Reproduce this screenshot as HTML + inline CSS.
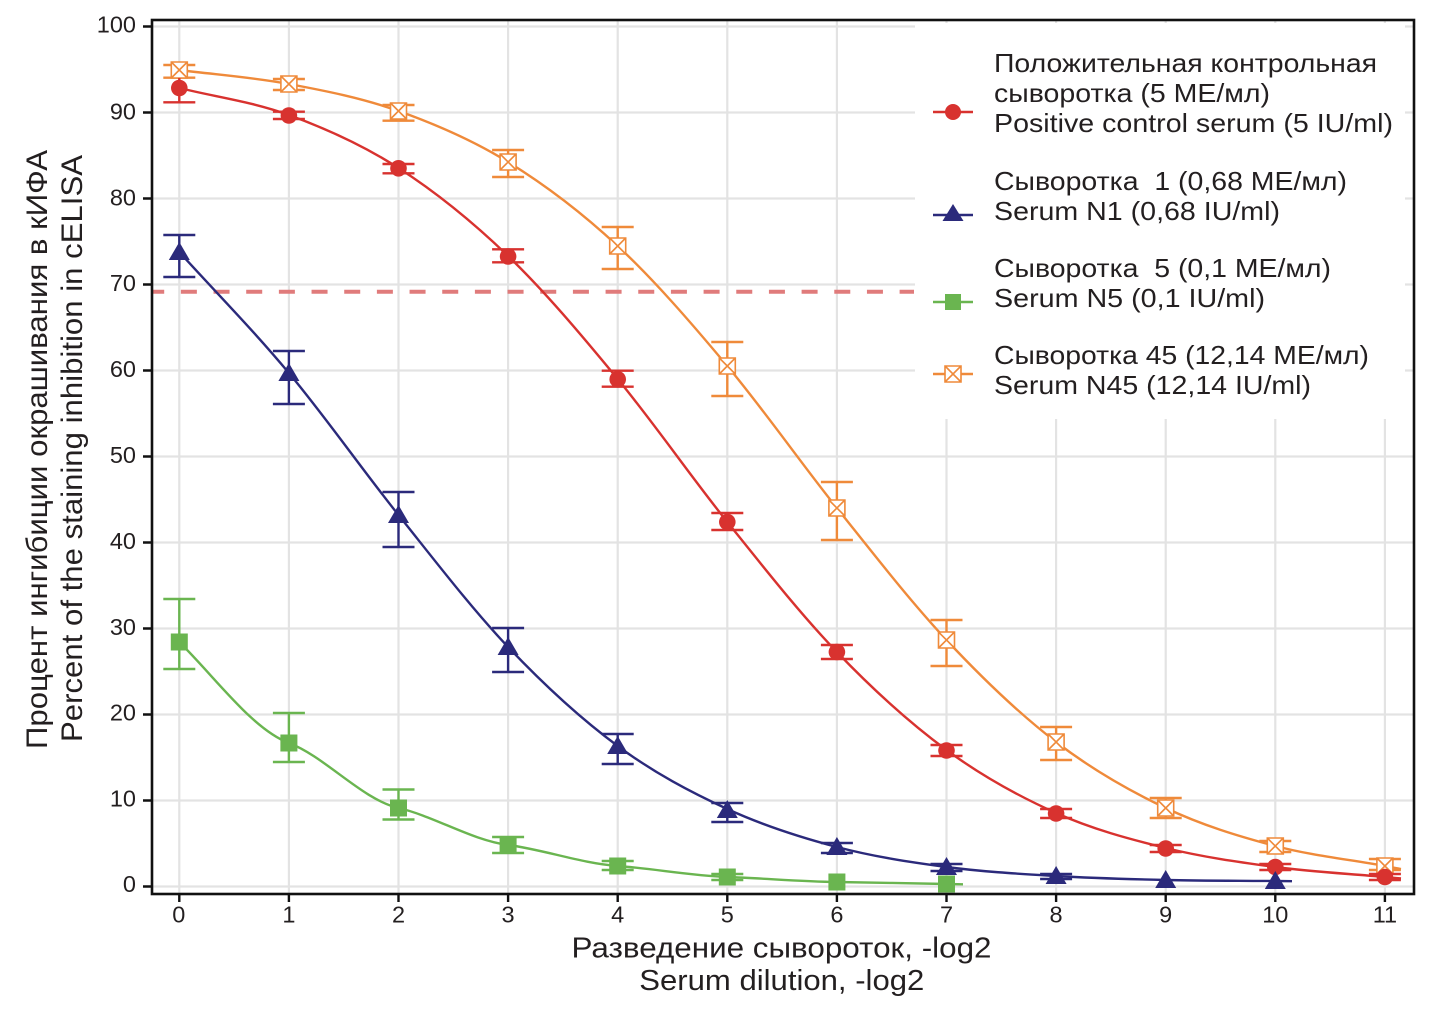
<!DOCTYPE html>
<html><head><meta charset="utf-8"><style>
html,body{margin:0;padding:0;background:#fff;}
svg{display:block;}
text{font-family:"Liberation Sans","DejaVu Sans",sans-serif;fill:#231f20;}
</style></head><body>
<svg width="1442" height="1019" viewBox="0 0 1442 1019" xmlns="http://www.w3.org/2000/svg">
<rect width="1442" height="1019" fill="#fff"/>
<!-- grid -->
<g stroke="#e3e3e3" stroke-width="2.2">
<line x1="179.3" y1="20" x2="179.3" y2="894"/><line x1="288.9" y1="20" x2="288.9" y2="894"/>
<line x1="398.5" y1="20" x2="398.5" y2="894"/><line x1="508.1" y1="20" x2="508.1" y2="894"/>
<line x1="617.7" y1="20" x2="617.7" y2="894"/><line x1="727.3" y1="20" x2="727.3" y2="894"/>
<line x1="836.9" y1="20" x2="836.9" y2="894"/><line x1="946.5" y1="20" x2="946.5" y2="894"/>
<line x1="1056.1" y1="20" x2="1056.1" y2="894"/><line x1="1165.7" y1="20" x2="1165.7" y2="894"/>
<line x1="1275.3" y1="20" x2="1275.3" y2="894"/><line x1="1384.9" y1="20" x2="1384.9" y2="894"/>
<line x1="152" y1="886.5" x2="1414" y2="886.5"/><line x1="152" y1="800.5" x2="1414" y2="800.5"/>
<line x1="152" y1="714.5" x2="1414" y2="714.5"/><line x1="152" y1="628.5" x2="1414" y2="628.5"/>
<line x1="152" y1="542.5" x2="1414" y2="542.5"/><line x1="152" y1="456.5" x2="1414" y2="456.5"/>
<line x1="152" y1="370.5" x2="1414" y2="370.5"/><line x1="152" y1="284.5" x2="1414" y2="284.5"/>
<line x1="152" y1="198.5" x2="1414" y2="198.5"/><line x1="152" y1="112.5" x2="1414" y2="112.5"/>
<line x1="152" y1="26.5" x2="1414" y2="26.5"/>
</g>
<!-- legend background -->
<rect x="915" y="23" width="490" height="396" fill="#fff"/>
<!-- dashed threshold -->
<line x1="153" y1="291.7" x2="914" y2="291.7" stroke="#e07b7b" stroke-width="4" stroke-dasharray="16 16.67" stroke-dashoffset="4.8"/>

<!-- ORANGE series -->
<g stroke="#ef8a3a" fill="none" stroke-width="2.4">
<path d="M179.3,70 C215.8,74.67 252.4,77.17 288.9,84 C325.4,90.83 362.0,98 398.5,111 C435.0,124 471.6,139.5 508.1,162 C544.6,184.5 581.2,212 617.7,246 C654.2,280 690.8,322.33 727.3,366 C763.8,409.67 800.4,462.33 836.9,508 C873.4,553.67 910.0,601 946.5,640 C983.0,679 1019.6,714 1056.1,742 C1092.6,770 1129.2,790.67 1165.7,808 C1202.2,825.33 1238.8,836.33 1275.3,846 C1311.8,855.67 1348.4,859.33 1384.9,866 L1401,869"/>
<path d="M179.3,65V77.7M163.3,65h32M163.3,77.7h32
M288.9,79V90M272.9,79h32M272.9,90h32
M398.5,105V120.7M382.5,105h32M382.5,120.7h32
M508.1,150V177M492.1,150h32M492.1,177h32
M617.7,227V269M601.7,227h32M601.7,269h32
M727.3,342V396M711.3,342h32M711.3,396h32
M836.9,482V540M820.9,482h32M820.9,540h32
M946.5,620V666M930.5,620h32M930.5,666h32
M1056.1,727V760M1040.1,727h32M1040.1,760h32
M1165.7,798V818M1149.7,798h32M1149.7,818h32
M1275.3,841V852M1259.3,841h32M1259.3,852h32
M1384.9,859V870M1368.9,859h32M1368.9,870h32"/>
</g>
<g stroke="#ef8a3a" fill="#fff" stroke-width="1.6">
<path d="M171.3,62h16v16h-16zM171.3,62l16,16M187.3,62l-16,16"/>
<path d="M280.9,76h16v16h-16zM280.9,76l16,16M296.9,76l-16,16"/>
<path d="M390.5,103h16v16h-16zM390.5,103l16,16M406.5,103l-16,16"/>
<path d="M500.1,154h16v16h-16zM500.1,154l16,16M516.1,154l-16,16"/>
<path d="M609.7,238h16v16h-16zM609.7,238l16,16M625.7,238l-16,16"/>
<path d="M719.3,358h16v16h-16zM719.3,358l16,16M735.3,358l-16,16"/>
<path d="M828.9,500h16v16h-16zM828.9,500l16,16M844.9,500l-16,16"/>
<path d="M938.5,632h16v16h-16zM938.5,632l16,16M954.5,632l-16,16"/>
<path d="M1048.1,734h16v16h-16zM1048.1,734l16,16M1064.1,734l-16,16"/>
<path d="M1157.7,800h16v16h-16zM1157.7,800l16,16M1173.7,800l-16,16"/>
<path d="M1267.3,838h16v16h-16zM1267.3,838l16,16M1283.3,838l-16,16"/>
<path d="M1376.9,858h16v16h-16zM1376.9,858l16,16M1392.9,858l-16,16"/>
</g>

<!-- RED series -->
<g stroke="#d8322f" fill="none" stroke-width="2.4">
<path d="M179.3,88 C215.8,97 252.4,101.67 288.9,115 C325.4,128.33 362.0,144.5 398.5,168 C435.0,191.5 471.6,220.83 508.1,256 C544.6,291.17 581.2,334.67 617.7,379 C654.2,423.33 690.8,476.5 727.3,522 C763.8,567.5 800.4,614 836.9,652 C873.4,690 910.0,723.17 946.5,750 C983.0,776.83 1019.6,796.67 1056.1,813 C1092.6,829.33 1129.2,839 1165.7,848 C1202.2,857 1238.8,862.17 1275.3,867 C1311.8,871.83 1348.4,873.67 1384.9,877 L1401,878.5"/>
<path d="M179.3,78V102.3M163.3,102.3h32
M288.9,111.7V119M272.9,111.7h32M272.9,119h32
M398.5,164V173.3M382.5,164h32M382.5,173.3h32
M508.1,249.3V262.3M492.1,249.3h32M492.1,262.3h32
M617.7,370.7V386.7M601.7,370.7h32M601.7,386.7h32
M727.3,513V530M711.3,513h32M711.3,530h32
M836.9,645V659M820.9,645h32M820.9,659h32
M946.5,745V756M930.5,745h32M930.5,756h32
M1056.1,809V818M1040.1,809h32M1040.1,818h32
M1165.7,845V852M1149.7,845h32M1149.7,852h32
M1275.3,864V870M1259.3,864h32M1259.3,870h32
M1384.9,874V880M1368.9,874h32M1368.9,880h32"/>
</g>
<g fill="#d8322f">
<circle cx="179.3" cy="88" r="8.3"/><circle cx="288.9" cy="115.5" r="8.3"/>
<circle cx="398.5" cy="168.3" r="8.3"/><circle cx="508.1" cy="256.5" r="8.3"/>
<circle cx="617.7" cy="379.3" r="8.3"/><circle cx="727.3" cy="522" r="8.3"/>
<circle cx="836.9" cy="652" r="8.3"/><circle cx="946.5" cy="750.5" r="8.3"/>
<circle cx="1056.1" cy="813.5" r="8.3"/><circle cx="1165.7" cy="848.5" r="8.3"/>
<circle cx="1275.3" cy="867" r="8.3"/><circle cx="1384.9" cy="877" r="8.3"/>
</g>

<!-- BLUE series -->
<g stroke="#2b2a7b" fill="none" stroke-width="2.4">
<path d="M179.3,252 C215.8,292.33 252.4,329.17 288.9,373 C325.4,416.83 362.0,469.33 398.5,515 C435.0,560.67 471.6,608.5 508.1,647 C544.6,685.5 581.2,719 617.7,746 C654.2,773 690.8,792.17 727.3,809 C763.8,825.83 800.4,837.33 836.9,847 C873.4,856.67 910.0,862.17 946.5,867 C983.0,871.83 1019.6,873.83 1056.1,876 C1092.6,878.17 1129.2,879.17 1165.7,880 C1202.2,880.83 1238.8,880.67 1275.3,881 L1292,881.2"/>
<path d="M179.3,235V277M163.3,235h32M163.3,277h32
M288.9,351V404M272.9,351h32M272.9,404h32
M398.5,492V547M382.5,492h32M382.5,547h32
M508.1,628V672M492.1,628h32M492.1,672h32
M617.7,734V764M601.7,734h32M601.7,764h32
M727.3,803V822M711.3,803h32M711.3,822h32
M836.9,843V853M820.9,843h32M820.9,853h32
M946.5,864V871M930.5,864h32M930.5,871h32
M1056.1,874V879M1040.1,874h32M1040.1,879h32"/>
</g>
<g fill="#2b2a7b">
<polygon points="179.3,242 168.8,260 189.8,260"/>
<polygon points="288.9,363 278.4,381 299.4,381"/>
<polygon points="398.5,505 388,523 409,523"/>
<polygon points="508.1,637 497.6,655 518.6,655"/>
<polygon points="617.7,736 607.2,754 628.2,754"/>
<polygon points="727.3,800 716.8,818 737.8,818"/>
<polygon points="836.9,837 826.4,855 847.4,855"/>
<polygon points="946.5,857 936,875 957,875"/>
<polygon points="1056.1,866 1045.6,884 1066.6,884"/>
<polygon points="1165.7,870 1155.2,888 1176.2,888"/>
<polygon points="1275.3,871 1264.8,889 1285.8,889"/>
</g>

<!-- GREEN series -->
<g stroke="#6ab550" fill="none" stroke-width="2.4">
<path d="M179.3,642 C215.8,678 252.4,729.2 288.9,743 C325.4,756.8 362.0,799.5 398.5,808 C435.0,816.5 471.6,840.2 508.1,845 C544.6,849.8 581.2,863.3 617.7,866 C654.2,868.7 690.8,875.7 727.3,877 C763.8,878.3 800.4,881.4 836.9,882 C873.4,882.6 910.0,883.3 946.5,884 L963,884.3"/>
<path d="M179.3,599V669M163.3,599h32M163.3,669h32
M288.9,713V762M272.9,713h32M272.9,762h32
M398.5,789.5V819.5M382.5,789.5h32M382.5,819.5h32
M508.1,837V853M492.1,837h32M492.1,853h32
M617.7,861V870M601.7,861h32M601.7,870h32
M727.3,874V880M711.3,874h32M711.3,880h32"/>
</g>
<g fill="#6ab550">
<rect x="170.8" y="633.5" width="17" height="17"/>
<rect x="280.4" y="734.5" width="17" height="17"/>
<rect x="390" y="799.5" width="17" height="17"/>
<rect x="499.6" y="836.5" width="17" height="17"/>
<rect x="609.2" y="857.5" width="17" height="17"/>
<rect x="718.8" y="868.5" width="17" height="17"/>
<rect x="828.4" y="873.5" width="17" height="17"/>
<rect x="938" y="875.5" width="17" height="17"/>
</g>

<!-- frame -->
<rect x="152" y="20" width="1262" height="874" fill="none" stroke="#111" stroke-width="2.6"/>
<!-- ticks -->
<g stroke="#111" stroke-width="2.4">
<path d="M143,886.5h9M143,800.5h9M143,714.5h9M143,628.5h9M143,542.5h9M143,456.5h9M143,370.5h9M143,284.5h9M143,198.5h9M143,112.5h9M143,26.5h9"/>
<path d="M179.3,894v8M288.9,894v8M398.5,894v8M508.1,894v8M617.7,894v8M727.3,894v8M836.9,894v8M946.5,894v8M1056.1,894v8M1165.7,894v8M1275.3,894v8M1384.9,894v8"/>
</g>
<!-- y tick labels -->
<g font-size="23.5" text-anchor="end">
<text x="136" y="892">0</text><text x="136" y="806.5">10</text>
<text x="136" y="720.5">20</text><text x="136" y="635">30</text>
<text x="136" y="549">40</text><text x="136" y="463">50</text>
<text x="136" y="377">60</text><text x="136" y="291">70</text>
<text x="136" y="205.5">80</text><text x="136" y="119.5">90</text>
<text x="136" y="32.5">100</text>
</g>
<!-- x tick labels -->
<g font-size="23.5" text-anchor="middle">
<text x="178.8" y="922.5">0</text><text x="288.9" y="922.5">1</text>
<text x="398.5" y="922.5">2</text><text x="508.1" y="922.5">3</text>
<text x="617.7" y="922.5">4</text><text x="727.3" y="922.5">5</text>
<text x="836.9" y="922.5">6</text><text x="946.5" y="922.5">7</text>
<text x="1056.1" y="922.5">8</text><text x="1165.7" y="922.5">9</text>
<text x="1275.3" y="922.5">10</text><text x="1384.9" y="922.5">11</text>
</g>
<!-- axis titles -->
<text x="571.5" y="957.3" font-size="28.5" textLength="420" lengthAdjust="spacingAndGlyphs">Разведение сывороток, -log2</text>
<text x="639.3" y="990" font-size="28.5" textLength="285" lengthAdjust="spacingAndGlyphs">Serum dilution, -log2</text>
<text transform="translate(47,449.5) rotate(-90)" font-size="29.5" text-anchor="middle" textLength="599" lengthAdjust="spacingAndGlyphs">Процент ингибиции окрашивания в кИФА</text>
<text transform="translate(82,448.5) rotate(-90)" font-size="29.5" text-anchor="middle" textLength="587" lengthAdjust="spacingAndGlyphs">Percent of the staining inhibition in cELISA</text>

<!-- legend -->
<g stroke-width="2.4">
<line x1="933" y1="112" x2="973" y2="112" stroke="#d8322f"/>
<circle cx="953" cy="112" r="8" fill="#d8322f"/>
<line x1="933" y1="215" x2="973" y2="215" stroke="#2b2a7b"/>
<polygon points="953,204 942.5,221 963.5,221" fill="#2b2a7b"/>
<line x1="933" y1="302" x2="973" y2="302" stroke="#6ab550"/>
<rect x="945" y="294" width="16" height="16" fill="#6ab550"/>
<line x1="933" y1="374" x2="973" y2="374" stroke="#ef8a3a"/>
<path d="M945,366h16v16h-16zM945,366l16,16M961,366l-16,16" stroke="#ef8a3a" stroke-width="1.6" fill="#fff"/>
</g>
<g font-size="26">
<text x="994" y="72" textLength="383" lengthAdjust="spacingAndGlyphs">Положительная контрольная</text>
<text x="994" y="102" textLength="276" lengthAdjust="spacingAndGlyphs">сыворотка (5 МЕ/мл)</text>
<text x="994" y="132" textLength="399" lengthAdjust="spacingAndGlyphs">Positive control serum (5 IU/ml)</text>
<text x="994" y="190" textLength="353" lengthAdjust="spacingAndGlyphs" xml:space="preserve">Сыворотка  1 (0,68 МЕ/мл)</text>
<text x="994" y="220" textLength="286" lengthAdjust="spacingAndGlyphs">Serum N1 (0,68 IU/ml)</text>
<text x="994" y="277" textLength="337" lengthAdjust="spacingAndGlyphs" xml:space="preserve">Сыворотка  5 (0,1 МЕ/мл)</text>
<text x="994" y="307" textLength="271" lengthAdjust="spacingAndGlyphs">Serum N5 (0,1 IU/ml)</text>
<text x="994" y="364" textLength="375" lengthAdjust="spacingAndGlyphs">Сыворотка 45 (12,14 МЕ/мл)</text>
<text x="994" y="394" textLength="317" lengthAdjust="spacingAndGlyphs">Serum N45 (12,14 IU/ml)</text>
</g>
</svg>
</body></html>
